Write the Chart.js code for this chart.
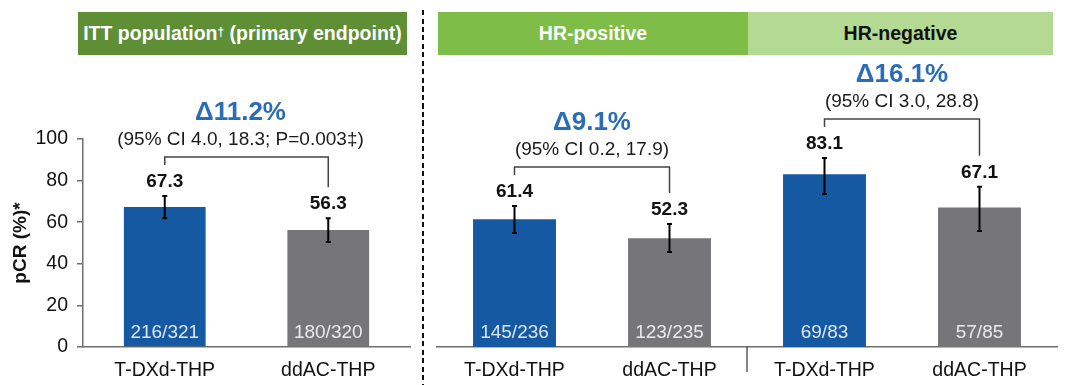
<!DOCTYPE html>
<html><head><meta charset="utf-8">
<script src="https://cdn.jsdelivr.net/npm/chart.js@4.4.1/dist/chart.umd.min.js"></script>
<style>
html,body{margin:0;padding:0;background:#fff}
body{width:1067px;height:385px;overflow:hidden;position:relative;font-family:'Liberation Sans',Arial,sans-serif}
canvas{position:absolute;top:0}
.hdr{position:absolute;top:12px;height:43px;display:flex;align-items:center;justify-content:center;font-weight:bold;font-size:19.5px;box-sizing:border-box}
.hdr sup{font-size:12px;position:relative;top:-2px}
#dash{position:absolute;left:422px;top:10px;width:2px;height:375px;background:repeating-linear-gradient(to bottom,#111 0 5px,transparent 5px 8.5px)}
</style></head>
<body>
<div class="hdr" style="left:78px;width:329px;background:#5e8f35;color:#fff">ITT population<sup>†</sup>&nbsp;(primary endpoint)</div>
<div class="hdr" style="left:438px;width:310px;background:#7dbd48;color:#fff">HR-positive</div>
<div class="hdr" style="left:748px;width:305px;background:#b3d993;color:#111">HR-negative</div>
<div id="dash"></div>
<canvas id="c1" width="420" height="385" style="left:0"></canvas>
<canvas id="c2" width="647" height="385" style="left:420px"></canvas>
<script>
// ---- data ----
const ittCategories = ['T-DXd-THP', 'ddAC-THP'];
const ittValues = [67.3, 56.3];
const ittLow = [61.9, 50.5];
const ittHigh = [72.6, 61.9];
const ittCounts = ['216/321', '180/320'];
const ittDelta = 'Δ11.2%';
const ittCI = '(95% CI 4.0, 18.3; P=0.003‡)';

const subCategories = ['T-DXd-THP', 'ddAC-THP', 'T-DXd-THP', 'ddAC-THP'];
const subValues = [61.4, 52.3, 83.1, 67.1];
const subLow = [54.8, 45.7, 73.6, 55.8];
const subHigh = [67.8, 59.1, 90.9, 77.0];
const subCounts = ['145/236', '123/235', '69/83', '57/85'];
const subDeltas = ['Δ9.1%', 'Δ16.1%'];
const subCIs = ['(95% CI 0.2, 17.9)', '(95% CI 3.0, 28.8)'];

const yTicksMin = 0, yTicksMax = 100, yTickStep = 20;

const BLUE = '#1559a2', GRAY = '#767679';
const FONT = "'Liberation Sans', Arial, sans-serif";
Chart.defaults.font.family = FONT;

const annotPlugin = {
  id: 'annot',
  afterDatasetsDraw(chart, args, opts) {
    const ctx = chart.ctx, x = chart.scales.x, y = chart.scales.y;
    const vals = chart.data.datasets[0].data;
    ctx.save();
    ctx.textAlign = 'center';
    ctx.textBaseline = 'middle';
    opts.low.forEach((lo, i) => {
      const px = x.getPixelForValue(i);
      const yl = y.getPixelForValue(lo), yh = y.getPixelForValue(opts.high[i]);
      ctx.strokeStyle = '#000'; ctx.lineWidth = 2;
      ctx.beginPath();
      ctx.moveTo(px, yl); ctx.lineTo(px, yh);
      ctx.moveTo(px - 2.5, yl); ctx.lineTo(px + 2.5, yl);
      ctx.moveTo(px - 2.5, yh); ctx.lineTo(px + 2.5, yh);
      ctx.stroke();
      ctx.fillStyle = '#111';
      ctx.font = 'bold 19px ' + FONT;
      ctx.fillText(vals[i].toFixed(1), px, yh - 14);
      ctx.fillStyle = 'rgba(255,255,255,0.85)';
      ctx.font = '19px ' + FONT;
      ctx.fillText(opts.counts[i], px, y.getPixelForValue(0) - 14);
    });
    opts.pairs.forEach(p => {
      const xa = x.getPixelForValue(p.a), xb = x.getPixelForValue(p.b);
      const la = y.getPixelForValue(opts.high[p.a]) - 31;
      const lb = y.getPixelForValue(opts.high[p.b]) - 31;
      const top = Math.min(la, lb) - 8;
      ctx.strokeStyle = '#444'; ctx.lineWidth = 1.5;
      ctx.beginPath();
      ctx.moveTo(xa, la); ctx.lineTo(xa, top); ctx.lineTo(xb, top); ctx.lineTo(xb, lb);
      ctx.stroke();
      const cx = (xa + xb) / 2 + (p.dx || 0);
      ctx.fillStyle = '#1a1a1a';
      ctx.font = '19px ' + FONT;
      ctx.fillText(p.ci, cx, top - 17);
      ctx.fillStyle = '#2a6cb8';
      ctx.font = 'bold 26px ' + FONT;
      ctx.fillText(p.delta, cx, top - 44);
    });
    (opts.separators || []).forEach(s => {
      const px = (x.getPixelForValue(s) + x.getPixelForValue(s + 1)) / 2;
      ctx.strokeStyle = '#333'; ctx.lineWidth = 1.2;
      ctx.beginPath(); ctx.moveTo(px, y.bottom); ctx.lineTo(px, y.bottom + 25); ctx.stroke();
    });
    ctx.restore();
  }
};

function xScale() {
  return {
    grid: { display: false },
    border: { display: true, color: '#6e6e6e', width: 1.5 },
    ticks: { color: '#111', font: { size: 19.5 }, padding: 4, maxRotation: 0, autoSkip: false },
    afterFit(s) { s.height = 38; }
  };
}

new Chart(document.getElementById('c1'), {
  type: 'bar',
  data: {
    labels: ittCategories,
    datasets: [{ data: ittValues, backgroundColor: [BLUE, GRAY], categoryPercentage: 1, barPercentage: 0.5 }]
  },
  options: {
    responsive: false, animation: false,
    layout: { padding: { top: 139, right: 10, left: 0, bottom: 0 } },
    plugins: {
      legend: { display: false }, tooltip: { enabled: false },
      annot: { low: ittLow, high: ittHigh, counts: ittCounts, pairs: [{ a: 0, b: 1, delta: ittDelta, ci: ittCI, dx: -6 }] }
    },
    scales: {
      x: xScale(),
      y: {
        min: yTicksMin, max: yTicksMax,
        ticks: { stepSize: yTickStep, color: '#111', font: { size: 19.5 }, padding: 9 },
        grid: { display: true, drawOnChartArea: false, drawTicks: true, tickLength: 6, color: '#6e6e6e', lineWidth: 1.5 },
        border: { display: true, color: '#6e6e6e', width: 1.5 },
        title: { display: true, text: 'pCR (%)*', color: '#111', font: { size: 19, weight: 'bold' }, padding: { top: 9, bottom: 0 } },
        afterFit(s) { s.width = 83; }
      }
    }
  },
  plugins: [annotPlugin]
});

new Chart(document.getElementById('c2'), {
  type: 'bar',
  data: {
    labels: subCategories,
    datasets: [{ data: subValues, backgroundColor: [BLUE, GRAY, BLUE, GRAY], categoryPercentage: 1, barPercentage: 0.535 }]
  },
  options: {
    responsive: false, animation: false,
    layout: { padding: { top: 139, right: 10, left: 17, bottom: 0 } },
    plugins: {
      legend: { display: false }, tooltip: { enabled: false },
      annot: {
        low: subLow, high: subHigh, counts: subCounts, separators: [1],
        pairs: [{ a: 0, b: 1, delta: subDeltas[0], ci: subCIs[0] }, { a: 2, b: 3, delta: subDeltas[1], ci: subCIs[1] }]
      }
    },
    scales: {
      x: xScale(),
      y: { display: false, min: yTicksMin, max: yTicksMax }
    }
  },
  plugins: [annotPlugin]
});
</script>
</body></html>
